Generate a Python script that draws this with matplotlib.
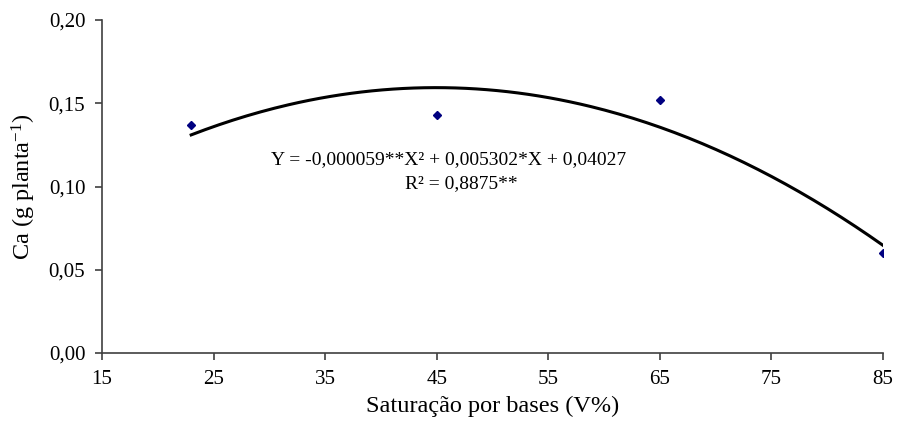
"""Ca accumulation vs base saturation with quadratic fit."""

import numpy as np
import matplotlib

matplotlib.use("Agg")
import matplotlib.pyplot as plt

# observed points
sat_bases = [23, 45, 65, 85]
ca_planta = [0.137, 0.143, 0.152, 0.060]

# quadratic regression coefficients shown on the chart (a*x^2 + b*x + c)
fit_coefs = [-0.000059, 0.005302, 0.04027]
fit_text = "Y = -0,000059**X\u00b2 + 0,005302*X + 0,04027"
r2_text = "R\u00b2 = 0,8875**"

x_ticks = [15, 25, 35, 45, 55, 65, 75, 85]
y_ticks = [0.0, 0.05, 0.10, 0.15, 0.20]

plt.rcParams["font.family"] = ["Liberation Serif", "DejaVu Serif"]
plt.rcParams["mathtext.fontset"] = "custom"
plt.rcParams["mathtext.rm"] = "Liberation Serif"
plt.rcParams["mathtext.it"] = "Liberation Serif:italic"

fig = plt.figure(figsize=(8.98, 4.25), dpi=100)
ax = fig.add_axes([0.1135, 0.1694, 0.8698, 0.7835])

xs = np.linspace(min(sat_bases), max(sat_bases), 200)
ax.plot(xs, np.polyval(fit_coefs, xs), color="black", linewidth=2.2, zorder=2)
ax.plot(sat_bases, ca_planta, linestyle="none", marker="D", markersize=4.5,
        color="#000080", zorder=3)

ax.set_xlim(15, 85)
ax.set_ylim(0, 0.20)
ax.set_xticks(x_ticks)
ax.set_yticks(y_ticks)
ax.set_yticklabels([f"{v:.2f}".replace(".", ",") for v in y_ticks])

for side in ("top", "right"):
    ax.spines[side].set_visible(False)
for side in ("left", "bottom"):
    ax.spines[side].set_color("#404040")
    ax.spines[side].set_linewidth(1.2)
ax.tick_params(direction="out", length=5, width=1.2, color="#404040",
               labelsize=15, pad=7)

ax.set_xlabel("Saturação por bases (V%)", fontsize=17.5, labelpad=5)
ax.set_ylabel("Ca (g planta$^{-1}$)", fontsize=17.5, labelpad=8)

ax.text(46.1, 0.1163, fit_text, fontsize=14, ha="center", va="center")
ax.text(47.2, 0.1018, r2_text, fontsize=14, ha="center", va="center")

fig.savefig("out.png", dpi=100)
plt.close(fig)
